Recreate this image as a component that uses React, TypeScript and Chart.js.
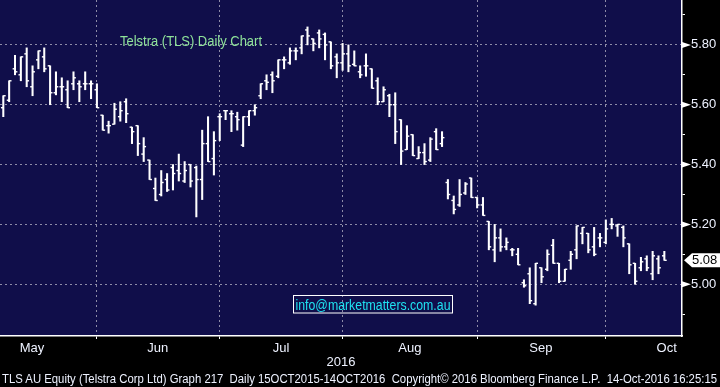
import React, { useEffect, useRef } from 'react';
import { Chart, registerables } from 'chart.js';

Chart.register(...registerables);

// Daily OHLC, TLS AU, May..Oct 2016 (bar index = trading day)
const highs = [
  5.63, 5.68, 5.765, 5.76, 5.79, 5.73, 5.78, 5.79, 5.73, 5.71, 5.69, 5.68, 5.71, 5.68, 5.71, 5.68,
  5.67, 5.565, 5.545, 5.605, 5.61, 5.62, 5.525, 5.53, 5.49, 5.415, 5.355, 5.38, 5.37, 5.40, 5.435, 5.41, 5.40, 5.395, 5.515, 5.56, 5.51,
  5.57, 5.58, 5.58, 5.575, 5.56, 5.58, 5.60, 5.67, 5.70, 5.71, 5.75, 5.76, 5.79, 5.79, 5.83, 5.86, 5.82, 5.85, 5.84, 5.81, 5.77,
  5.805, 5.80, 5.78, 5.73, 5.77, 5.72, 5.69, 5.66, 5.635, 5.64, 5.55, 5.53, 5.50, 5.46, 5.47, 5.49, 5.52, 5.51, 5.35, 5.295, 5.35, 5.34, 5.355,
  5.29, 5.29, 5.21, 5.20, 5.185, 5.155, 5.12, 5.12, 5.015, 5.055, 5.07, 5.055, 5.115, 5.15, 5.07, 5.05, 5.11, 5.195, 5.19, 5.17, 5.19, 5.17,
  5.215, 5.22, 5.20, 5.195, 5.135, 5.07, 5.09, 5.095, 5.11, 5.095, 5.11,
];
const lows = [
  5.56, 5.61, 5.70, 5.68, 5.66, 5.63, 5.72, 5.71, 5.60, 5.633, 5.61, 5.59, 5.65, 5.61, 5.65, 5.62,
  5.59, 5.515, 5.505, 5.535, 5.545, 5.54, 5.47, 5.43, 5.41, 5.35, 5.28, 5.295, 5.31, 5.315, 5.345, 5.34, 5.325, 5.225, 5.283, 5.41, 5.365,
  5.48, 5.55, 5.51, 5.515, 5.46, 5.53, 5.565, 5.62, 5.65, 5.64, 5.69, 5.72, 5.735, 5.75, 5.77, 5.80, 5.78, 5.79, 5.75, 5.72, 5.69,
  5.715, 5.71, 5.73, 5.69, 5.695, 5.655, 5.60, 5.61, 5.56, 5.47, 5.40, 5.45, 5.43, 5.42, 5.40, 5.41, 5.45, 5.46, 5.285, 5.235, 5.26, 5.30, 5.29,
  5.255, 5.23, 5.115, 5.075, 5.11, 5.115, 5.095, 5.065, 4.99, 4.935, 4.93, 5.005, 5.045, 5.07, 5.005, 5.01, 5.05, 5.085, 5.135, 5.105, 5.095, 5.125,
  5.135, 5.185, 5.16, 5.125, 5.035, 5.00, 5.045, 5.045, 5.015, 5.035, 5.08,
];
const opens = [
  5.59, 5.615, 5.72, 5.70, 5.77, 5.66, 5.75, 5.76, 5.73, 5.64, 5.66, 5.65, 5.67, 5.67, 5.67, 5.67,
  5.65, 5.565, 5.53, 5.535, 5.56, 5.61, 5.525, 5.53, 5.435, 5.415, 5.32, 5.30, 5.35, 5.39, 5.38, 5.345, 5.40, 5.39, 5.35, 5.47, 5.42,
  5.56, 5.58, 5.57, 5.56, 5.465, 5.56, 5.58, 5.63, 5.68, 5.70, 5.695, 5.75, 5.74, 5.78, 5.79, 5.85, 5.82, 5.84, 5.835, 5.81, 5.76,
  5.74, 5.77, 5.735, 5.71, 5.73, 5.72, 5.68, 5.61, 5.63, 5.60, 5.55, 5.45, 5.50, 5.42, 5.44, 5.415, 5.51, 5.47, 5.34, 5.28, 5.265, 5.305, 5.355,
  5.29, 5.265, 5.21, 5.115, 5.155, 5.125, 5.115, 5.10, 5.005, 5.035, 4.935, 5.055, 5.05, 5.13, 5.07, 5.01, 5.08, 5.115, 5.17, 5.17, 5.125, 5.155,
  5.14, 5.20, 5.195, 5.19, 5.135, 5.07, 5.055, 5.085, 5.035, 5.085, 5.095,
];
const closes = [
  5.63, 5.68, 5.71, 5.76, 5.68, 5.71, 5.78, 5.72, 5.64, 5.66, 5.66, 5.59, 5.69, 5.66, 5.67, 5.67,
  5.59, 5.515, 5.53, 5.585, 5.58, 5.57, 5.51, 5.47, 5.46, 5.35, 5.28, 5.34, 5.315, 5.37, 5.37, 5.38, 5.345, 5.35, 5.47, 5.41, 5.48,
  5.56, 5.58, 5.57, 5.55, 5.56, 5.58, 5.59, 5.67, 5.675, 5.68, 5.75, 5.75, 5.78, 5.78, 5.83, 5.83, 5.805, 5.82, 5.80, 5.73, 5.74,
  5.77, 5.73, 5.73, 5.70, 5.73, 5.655, 5.61, 5.65, 5.60, 5.51, 5.445, 5.495, 5.43, 5.44, 5.41, 5.485, 5.45, 5.49, 5.30, 5.25, 5.30, 5.335, 5.29,
  5.265, 5.23, 5.125, 5.155, 5.125, 5.14, 5.115, 5.065, 4.995, 4.945, 5.07, 5.025, 5.10, 5.07, 5.01, 5.05, 5.10, 5.195, 5.19, 5.115, 5.10, 5.155,
  5.185, 5.20, 5.20, 5.155, 5.065, 5.01, 5.075, 5.055, 5.095, 5.055, 5.08,
];

// x axis: month boundaries (bar index of first trading day) and label positions
const monthStartIdx = [16, 37, 58, 81, 103];
const monthLabels = ['May', 'Jun', 'Jul', 'Aug', 'Sep', 'Oct'];
const monthLabelPos = [4.9, 26.4, 47.5, 69.5, 91.9, 113.4];
const yearLabel = '2016';

// y axis ticks
const yMajorTicks = [5.0, 5.2, 5.4, 5.6, 5.8];
const yMinorTicks = [4.9, 5.1, 5.3, 5.5, 5.7, 5.9];

const X_MIN = -0.564;
const X_MAX = 116.02;
const Y_MIN = 4.827;
const Y_MAX = 5.95;

const PLOT_BG = '#100e4a';
const GRID = '#8e8ca8';
const AXIS_TEXT = '#eef2ff';
const FONT = '"Liberation Sans", Arial, sans-serif';

const isMajor = (v: number) => yMajorTicks.some((m) => Math.abs(m - v) < 1e-6);
const isMonthStart = (v: number) => monthStartIdx.some((m) => Math.abs(m - v) < 1e-6);

const decorPlugin = {
  id: 'decor',
  beforeDraw(chart: any) {
    const { ctx, chartArea } = chart;
    ctx.save();
    ctx.fillStyle = '#000000';
    ctx.fillRect(0, 0, chart.width, chart.height);
    ctx.fillStyle = PLOT_BG;
    ctx.fillRect(chartArea.left, chartArea.top, chartArea.right - chartArea.left, chartArea.bottom - chartArea.top);
    ctx.restore();
  },
  afterDraw(chart: any) {
    const { ctx, chartArea } = chart;
    const ys = chart.scales.y;
    const xr = chartArea.right;
    ctx.save();
    ctx.fillStyle = '#ffffff';
    yMajorTicks.forEach((v) => {
      const py = ys.getPixelForValue(v);
      ctx.beginPath();
      ctx.moveTo(xr, py - 3);
      ctx.lineTo(xr + 9, py);
      ctx.lineTo(xr, py + 3);
      ctx.closePath();
      ctx.fill();
    });
    // last price tag
    const last = closes[closes.length - 1];
    const py = ys.getPixelForValue(last);
    ctx.beginPath();
    ctx.moveTo(xr + 2, py);
    ctx.lineTo(xr + 10, py - 7);
    ctx.lineTo(chart.width, py - 7);
    ctx.lineTo(chart.width, py + 7);
    ctx.lineTo(xr + 10, py + 7);
    ctx.closePath();
    ctx.fill();
    ctx.fillStyle = '#000000';
    ctx.font = `13px ${FONT}`;
    ctx.textAlign = 'left';
    ctx.textBaseline = 'middle';
    ctx.fillText(last.toFixed(2), xr + 10, py + 0.5);
    ctx.restore();
  },
};

export default function App() {
  const canvasRef = useRef<HTMLCanvasElement | null>(null);

  useEffect(() => {
    document.body.style.margin = '0';
    document.body.style.background = '#000';
    const canvas = canvasRef.current;
    if (!canvas) return;

    const rangeData = highs.map((h, i) => ({ x: i, y: [lows[i], h] }));
    const openData = opens.map((o, i) => ({ x: i - 0.2, y: o }));
    const closeData = closes.map((c, i) => ({ x: i + 0.2, y: c }));

    const tickStyle = {
      type: 'scatter',
      pointStyle: 'line',
      radius: 1.2,
      hoverRadius: 0,
      hitRadius: 0,
      borderColor: '#ffffff',
      borderWidth: 1.4,
    };

    const chart = new Chart(canvas, {
      type: 'bar',
      data: {
        datasets: [
          {
            type: 'bar',
            data: rangeData as any,
            backgroundColor: '#ffffff',
            borderWidth: 0,
            barThickness: 1.4,
          } as any,
          { ...tickStyle, data: openData } as any,
          { ...tickStyle, data: closeData } as any,
        ],
      },
      options: {
        animation: false,
        responsive: false,
        maintainAspectRatio: false,
        events: [],
        layout: { autoPadding: false, padding: { left: 0, right: 0, top: 0, bottom: 15 } },
        plugins: {
          legend: { display: false },
          tooltip: { enabled: false },
          title: { display: false },
        },
        scales: {
          x: {
            type: 'linear',
            position: 'bottom',
            offset: false,
            min: X_MIN,
            max: X_MAX,
            afterBuildTicks: (s: any) => {
              s.ticks = [...monthStartIdx, ...monthLabelPos].sort((a, b) => a - b).map((v) => ({ value: v }));
            },
            afterFit: (s: any) => {
              s.height = 36;
              s.paddingLeft = 0;
              s.paddingRight = 0;
            },
            ticks: {
              autoSkip: false,
              maxRotation: 0,
              minRotation: 0,
              padding: 2,
              color: AXIS_TEXT,
              font: { family: FONT, size: 13 },
              callback: (value: any) => {
                const k = monthLabelPos.findIndex((p) => Math.abs(p - value) < 1e-6);
                return k >= 0 ? monthLabels[k] : '';
              },
            },
            grid: {
              offset: false,
              drawOnChartArea: true,
              drawTicks: true,
              tickLength: 3,
              lineWidth: 1,
              color: (c: any) => (c.tick && isMonthStart(c.tick.value) ? GRID : 'rgba(0,0,0,0)'),
              tickColor: (c: any) => (c.tick && isMonthStart(c.tick.value) ? '#ffffff' : 'rgba(0,0,0,0)'),
            },
            border: { display: true, color: '#ffffff', width: 1.5, dash: [2, 3] },
            title: {
              display: true,
              text: yearLabel,
              color: AXIS_TEXT,
              font: { family: FONT, size: 13 },
              padding: { top: 0, bottom: 2 },
            },
          } as any,
          y: {
            type: 'linear',
            position: 'right',
            min: Y_MIN,
            max: Y_MAX,
            afterBuildTicks: (s: any) => {
              s.ticks = [...yMinorTicks, ...yMajorTicks].sort((a, b) => a - b).map((v) => ({ value: v }));
            },
            afterFit: (s: any) => {
              s.width = 38;
              s.paddingTop = 0;
              s.paddingBottom = 0;
            },
            ticks: {
              autoSkip: false,
              padding: 6,
              color: AXIS_TEXT,
              font: { family: FONT, size: 13 },
              callback: (value: any) => (isMajor(Number(value)) ? Number(value).toFixed(2) : ''),
            },
            grid: {
              drawOnChartArea: true,
              drawTicks: true,
              tickLength: 3,
              lineWidth: 1,
              color: (c: any) => (c.tick && isMajor(c.tick.value) ? GRID : 'rgba(0,0,0,0)'),
              tickColor: '#ffffff',
            },
            border: { display: true, color: '#ffffff', width: 1.5, dash: [2, 3] },
          } as any,
        },
      },
      plugins: [decorPlugin],
    });

    return () => chart.destroy();
  }, []);

  return (
    <div style={{ position: 'relative', width: 720, height: 387, background: '#000', overflow: 'hidden' }}>
      <canvas ref={canvasRef} width={720} height={387} style={{ display: 'block', width: 720, height: 387 }} />
      <svg
        width={720}
        height={387}
        style={{ position: 'absolute', left: 0, top: 0, pointerEvents: 'none' }}
      >
        <text x={120} y={46} fontFamily={FONT} fontSize={14} fill="#8fe39a" textLength={142} lengthAdjust="spacingAndGlyphs">
          Telstra (TLS) Daily Chart
        </text>
        <rect x={293.5} y={295.5} width={159} height={17.5} fill="none" stroke="#ffffff" strokeWidth={1} />
        <text x={295.5} y={309.5} fontFamily={FONT} fontSize={14} fill="#1fe2f0" textLength={155} lengthAdjust="spacingAndGlyphs">
          info@marketmatters.com.au
        </text>
        <text
          x={2}
          y={383}
          fontFamily={FONT}
          fontSize={12.5}
          fill={AXIS_TEXT}
          textLength={715}
          lengthAdjust="spacingAndGlyphs"
          style={{ whiteSpace: 'pre' }}
        >
          {'TLS AU Equity (Telstra Corp Ltd) Graph 217  Daily 15OCT2015-14OCT2016  Copyright\u00A9 2016 Bloomberg Finance L.P.  14-Oct-2016 16:25:15'}
        </text>
      </svg>
    </div>
  );
}
